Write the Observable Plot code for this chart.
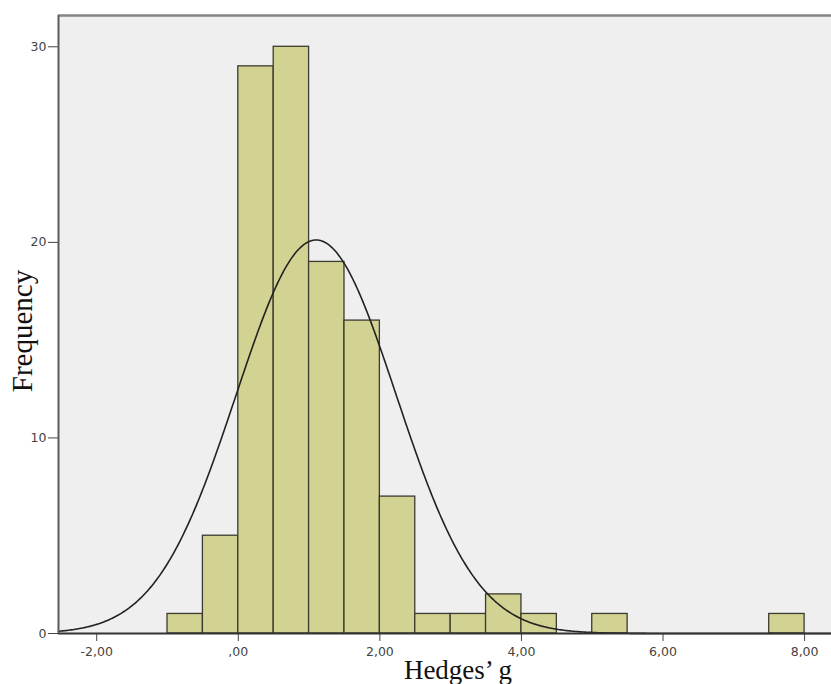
<!DOCTYPE html>
<html>
<head>
<meta charset="utf-8">
<script src="https://cdn.jsdelivr.net/npm/d3@7"></script>
<script src="https://cdn.jsdelivr.net/npm/@observablehq/plot@0.6"></script>
<style>
  html, body { margin: 0; padding: 0; background: #fff; }
  #chart svg { display: block; }
</style>
</head>
<body>
<div id="chart"></div>
<script>
// Histogram bins (width 0.5) and counts
const binStart = [-1, -0.5, 0, 0.5, 1, 1.5, 2, 2.5, 3, 3.5, 4, 5, 7.5];
const counts   = [1, 5, 29, 30, 19, 16, 7, 1, 1, 2, 1, 1, 1];
const binWidth = 0.5;

// Fitted normal curve parameters (as SPSS draws it)
const fitMean = 1.10;
const fitSD = 1.13;
const fitN = 114;

// Axis ticks and labels
const xTicks = [-2, 0, 2, 4, 6, 8];
const yTicks = [0, 10, 20, 30];
const xDomain = [-2.54, 8.38];
const yDomain = [0, 31.6];
const xLabel = "Hedges\u2019 g";
const yLabel = "Frequency";

const bars = binStart.map((b, i) => ({x1: b, x2: b + binWidth, count: counts[i]}));

// normal density scaled to histogram counts
const curvePts = d3.range(xDomain[0], xDomain[1] + 0.001, 0.02).map(x => ({
  x,
  y: fitN * binWidth / (fitSD * Math.sqrt(2 * Math.PI)) * Math.exp(-0.5 * ((x - fitMean) / fitSD) ** 2)
}));

const fmt = d => d === 0 ? ",00" : d.toFixed(2).replace(".", ",");

const plot = Plot.plot({
  width: 831,
  height: 684,
  marginLeft: 58,
  marginRight: 0,
  marginTop: 15,
  marginBottom: 51,
  style: {fontFamily: "DejaVu Sans", fontSize: "12.5px", color: "#444", background: "#fff"},
  x: {domain: xDomain, ticks: xTicks, tickFormat: fmt, tickSize: 8, tickPadding: 6, label: null},
  y: {domain: yDomain, ticks: yTicks, tickSize: 10, tickPadding: 2, label: null},
  marks: [
    Plot.frame({fill: "#efefef", stroke: null}),
    Plot.rectY(bars, {x1: "x1", x2: "x2", y: "count", fill: "#d2d293", stroke: "#3b3b30", strokeWidth: 1.3}),
    Plot.line(curvePts, {x: "x", y: "y", stroke: "#222", strokeWidth: 1.6}),
    Plot.ruleY([0], {stroke: "#333", strokeWidth: 2}),
    Plot.ruleY([yDomain[1]], {stroke: "#858585", strokeWidth: 2.5}),
    Plot.ruleX([xDomain[0]], {stroke: "#5a5a5a", strokeWidth: 2})
  ]
});

document.getElementById("chart").appendChild(plot);

const svg = d3.select(plot.tagName === "svg" ? plot : plot.querySelector("svg"));
svg.append("text")
  .attr("x", 458).attr("y", 679)
  .attr("text-anchor", "middle")
  .attr("font-family", "Liberation Serif")
  .attr("font-size", 27)
  .attr("fill", "#111")
  .text(xLabel);
svg.append("text")
  .attr("transform", "translate(32,331) rotate(-90)")
  .attr("text-anchor", "middle")
  .attr("font-family", "Liberation Serif")
  .attr("font-size", 29)
  .attr("fill", "#111")
  .text(yLabel);
</script>
</body>
</html>
